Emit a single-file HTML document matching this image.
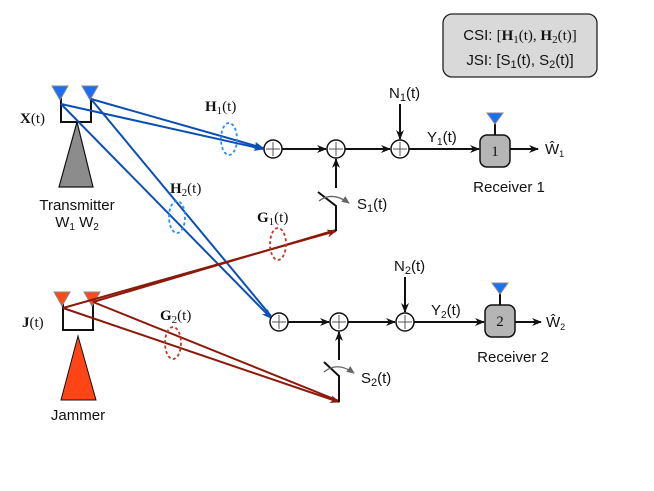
<!DOCTYPE html>
<html><head><meta charset="utf-8"><style>
body{margin:0;background:#fff;}
svg{display:block;}
text{font-family:"Liberation Sans",sans-serif;font-size:15px;fill:#111;}
.m{font-family:"Liberation Serif",serif;}
</style></head><body>
<svg width="654" height="491" viewBox="0 0 654 491" xmlns="http://www.w3.org/2000/svg">
<defs>
<marker id="ak" markerWidth="10" markerHeight="8" refX="9" refY="4" orient="auto" markerUnits="userSpaceOnUse"><path d="M0,0 L10,4 L0,8 L3,4z" fill="#111"/></marker>
<marker id="ab" markerWidth="10" markerHeight="8" refX="9" refY="4" orient="auto" markerUnits="userSpaceOnUse"><path d="M0,0 L10,4 L0,8 L3,4z" fill="#0b4fb5"/></marker>
<marker id="ar" markerWidth="10" markerHeight="8" refX="9" refY="4" orient="auto" markerUnits="userSpaceOnUse"><path d="M0,0 L10,4 L0,8 L3,4z" fill="#8b1a0a"/></marker>
<marker id="ag" markerWidth="8" markerHeight="7" refX="7" refY="3.5" orient="auto" markerUnits="userSpaceOnUse"><path d="M0,0 L8,3.5 L0,7z" fill="#666"/></marker>
</defs>
<!-- CSI box -->
<rect x="443" y="14" width="154" height="63" rx="9" fill="#d9d9d9" stroke="#222" stroke-width="1.3"/>
<text x="520" y="40" text-anchor="middle" font-size="16">CSI: <tspan class="m">[<tspan font-weight="bold">H</tspan><tspan font-size="11" dy="3">1</tspan><tspan dy="-3">(t), </tspan><tspan font-weight="bold">H</tspan><tspan font-size="11" dy="3">2</tspan><tspan dy="-3">(t)]</tspan></tspan></text>
<text x="520" y="65" text-anchor="middle" font-size="16">JSI: [S<tspan font-size="11" dy="3">1</tspan><tspan dy="-3">(t), S</tspan><tspan font-size="11" dy="3">2</tspan><tspan dy="-3">(t)]</tspan></text>

<!-- Transmitter -->
<polyline points="61,98 61,122 91,122 91,98" fill="none" stroke="#111" stroke-width="2"/>
<polygon points="77,122 59,187 93,187" fill="#8c8c8c" stroke="#111" stroke-width="1.2"/>
<polygon points="52,86 68,86 60,100" fill="#1a6ef5" stroke="#888" stroke-width="1"/>
<polygon points="82,86 98,86 90,100" fill="#1a6ef5" stroke="#888" stroke-width="1"/>
<text x="20" y="123" class="m" font-size="17"><tspan font-weight="bold">X</tspan>(t)</text>
<text x="77" y="210" text-anchor="middle" font-size="17">Transmitter</text>
<text x="77" y="227" text-anchor="middle">W<tspan font-size="10" dy="3">1</tspan><tspan dy="-3">  W</tspan><tspan font-size="10" dy="3">2</tspan></text>

<!-- Blue lines -->
<g stroke="#0b4fb5" stroke-width="2" fill="none">
<line x1="61" y1="104" x2="263" y2="149" marker-end="url(#ab)"/>
<line x1="91" y1="99" x2="263" y2="148" marker-end="url(#ab)"/>
<line x1="61" y1="104" x2="271" y2="318" marker-end="url(#ab)"/>
<line x1="91" y1="99" x2="271" y2="316"/>
</g>
<ellipse cx="229" cy="139" rx="8" ry="16" fill="none" stroke="#2a8cff" stroke-width="1.8" stroke-dasharray="3,2.5"/>
<ellipse cx="177" cy="217" rx="8" ry="16" fill="none" stroke="#2a8cff" stroke-width="1.8" stroke-dasharray="3,2.5"/>
<text x="205" y="111" class="m" font-size="17"><tspan font-weight="bold">H</tspan><tspan font-size="11" dy="3">1</tspan><tspan dy="-3">(t)</tspan></text>
<text x="170" y="193" class="m" font-size="17"><tspan font-weight="bold">H</tspan><tspan font-size="11" dy="3">2</tspan><tspan dy="-3">(t)</tspan></text>

<!-- Jammer -->
<polyline points="63,304 63,330 93,330 93,304" fill="none" stroke="#111" stroke-width="2"/>
<polygon points="78,336 61,400 96,400" fill="#ff4515" stroke="#111" stroke-width="1"/>
<polygon points="54,292 70,292 62,306" fill="#ff4a1a" stroke="#888" stroke-width="1"/>
<polygon points="84,292 100,292 92,306" fill="#ff4a1a" stroke="#888" stroke-width="1"/>
<text x="22" y="327" class="m" font-size="17"><tspan font-weight="bold">J</tspan>(t)</text>
<text x="78" y="420" text-anchor="middle" font-size="17">Jammer</text>

<!-- Red lines -->
<g stroke="#8b1a0a" stroke-width="2" fill="none">
<line x1="63" y1="308" x2="336" y2="231" marker-end="url(#ar)"/>
<line x1="93" y1="302" x2="336" y2="230"/>
<line x1="63" y1="308" x2="339" y2="402" marker-end="url(#ar)"/>
<line x1="93" y1="302" x2="339" y2="401"/>
</g>
<ellipse cx="278" cy="244" rx="8" ry="16" fill="none" stroke="#c0392b" stroke-width="1.8" stroke-dasharray="3,2.5"/>
<ellipse cx="173" cy="343" rx="8" ry="16" fill="none" stroke="#c0392b" stroke-width="1.8" stroke-dasharray="3,2.5"/>
<text x="257" y="222" class="m" font-size="17"><tspan font-weight="bold">G</tspan><tspan font-size="11" dy="3">1</tspan><tspan dy="-3">(t)</tspan></text>
<text x="160" y="320" class="m" font-size="17"><tspan font-weight="bold">G</tspan><tspan font-size="11" dy="3">2</tspan><tspan dy="-3">(t)</tspan></text>

<!-- chains -->
<g stroke="#111" stroke-width="1.5" fill="#fff">
<circle cx="273" cy="149" r="9"/><circle cx="336" cy="149" r="9"/><circle cx="400" cy="149" r="9"/>
<circle cx="279" cy="322" r="9"/><circle cx="339" cy="322" r="9"/><circle cx="405" cy="322" r="9"/>
</g>
<g stroke="#555" stroke-width="1">
<path d="M273,142v14M266,149h14M336,142v14M329,149h14M400,142v14M393,149h14"/>
<path d="M279,315v14M272,322h14M339,315v14M332,322h14M405,315v14M398,322h14"/>
</g>
<g stroke="#111" stroke-width="2" fill="none">
<line x1="282" y1="149" x2="326" y2="149" marker-end="url(#ak)"/>
<line x1="345" y1="149" x2="390" y2="149" marker-end="url(#ak)"/>
<line x1="400" y1="104" x2="400" y2="139" marker-end="url(#ak)"/>
<line x1="409" y1="149" x2="479" y2="149" marker-end="url(#ak)"/>
<line x1="510" y1="149" x2="538" y2="149" marker-end="url(#ak)"/>
<line x1="336" y1="188" x2="336" y2="159" marker-end="url(#ak)"/>
<polyline points="318,192 336,206 336,231"/>
<line x1="288" y1="322" x2="329" y2="322" marker-end="url(#ak)"/>
<line x1="348" y1="322" x2="395" y2="322" marker-end="url(#ak)"/>
<line x1="405" y1="277" x2="405" y2="312" marker-end="url(#ak)"/>
<line x1="414" y1="322" x2="484" y2="322" marker-end="url(#ak)"/>
<line x1="515" y1="322" x2="541" y2="322" marker-end="url(#ak)"/>
<line x1="339" y1="360" x2="339" y2="332" marker-end="url(#ak)"/>
<polyline points="324,362 339,376 339,402"/>
<line x1="495" y1="122" x2="495" y2="135"/>
<line x1="500" y1="292" x2="500" y2="305"/>
</g>
<path d="M319,201 Q332,191 349,203" fill="none" stroke="#666" stroke-width="1.3" marker-end="url(#ag)"/>
<path d="M324,372 Q337,361 354,373" fill="none" stroke="#666" stroke-width="1.3" marker-end="url(#ag)"/>
<rect x="480" y="135" width="30" height="32" rx="7" fill="#b5b5b5" stroke="#111" stroke-width="1.5"/>
<rect x="485" y="305" width="30" height="32" rx="7" fill="#b5b5b5" stroke="#111" stroke-width="1.5"/>
<polygon points="487,113 503,113 495,124" fill="#1a6ef5" stroke="#888"/>
<polygon points="492,283 508,283 500,294" fill="#1a6ef5" stroke="#888"/>
<text x="495" y="156" text-anchor="middle" class="m" font-size="13">1</text>
<text x="500" y="326" text-anchor="middle" class="m" font-size="13">2</text>
<text x="389" y="98" font-size="16">N<tspan font-size="11" dy="3">1</tspan><tspan dy="-3">(t)</tspan></text>
<text x="394" y="271" font-size="16">N<tspan font-size="11" dy="3">2</tspan><tspan dy="-3">(t)</tspan></text>
<text x="427" y="142" font-size="14">Y<tspan font-size="10" dy="3">1</tspan><tspan dy="-3">(t)</tspan></text>
<text x="431" y="315" font-size="14">Y<tspan font-size="10" dy="3">2</tspan><tspan dy="-3">(t)</tspan></text>
<text x="357" y="209" font-size="16">S<tspan font-size="11" dy="3">1</tspan><tspan dy="-3">(t)</tspan></text>
<text x="361" y="383" font-size="16">S<tspan font-size="11" dy="3">2</tspan><tspan dy="-3">(t)</tspan></text>
<text x="545" y="154" font-size="12">Ŵ<tspan font-size="9" dy="3">1</tspan></text>
<text x="546" y="327" font-size="12">Ŵ<tspan font-size="9" dy="3">2</tspan></text>
<text x="509" y="192" text-anchor="middle" font-size="17">Receiver 1</text>
<text x="513" y="362" text-anchor="middle" font-size="17">Receiver 2</text>
</svg>
</body></html>
